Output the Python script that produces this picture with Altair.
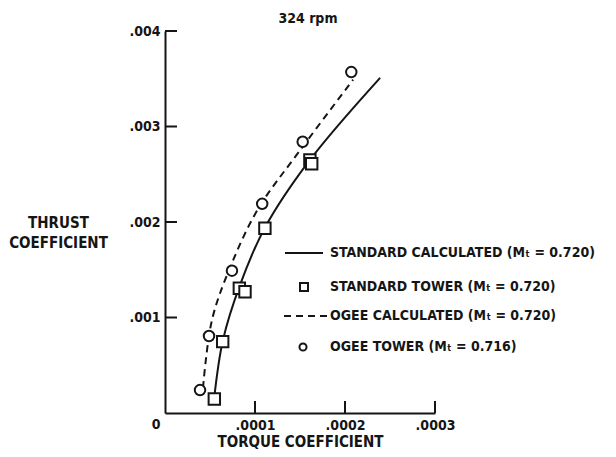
import altair as alt
import pandas as pd

# ---- data ----
std_calc_x = [0.0000544, 0.0000644, 0.0000833, 0.000111, 0.000161, 0.000239]
std_calc_y = [0.000136, 0.000764, 0.00134, 0.00194, 0.00265, 0.00351]
ogee_calc_x = [0.0000422, 0.0000522, 0.0000722, 0.000103, 0.000150, 0.000209]
ogee_calc_y = [0.000262, 0.000974, 0.00152, 0.00213, 0.00275, 0.00349]
std_tower_x = [0.0000548, 0.0000641, 0.0000826, 0.0000889, 0.000111, 0.000161, 0.000163]
std_tower_y = [0.000147, 0.000747, 0.001306, 0.00127, 0.001934, 0.00265, 0.00261]
ogee_tower_x = [0.0000389, 0.0000489, 0.0000744, 0.000108, 0.000153, 0.000207]
ogee_tower_y = [0.00024, 0.000806, 0.00149, 0.00219, 0.00284, 0.00357]

x_ticks = [0.0001, 0.0002, 0.0003]
y_ticks = [0.001, 0.002, 0.003, 0.004]

legend_labels = [
    "STANDARD CALCULATED (Mₜ = 0.720)",
    "STANDARD TOWER (Mₜ = 0.720)",
    "OGEE CALCULATED (Mₜ = 0.720)",
    "OGEE TOWER (Mₜ = 0.716)",
]
title_text = "324 rpm"
x_title = "TORQUE COEFFICIENT"
y_title = ["THRUST", "COEFFICIENT"]

# ---- layout ----
W, H = 270, 382
FONT = "DejaVu Sans Condensed, sans-serif"
INK = "#151515"

xs = alt.Scale(domain=[0, 0.0003], nice=False, zero=True)
ys = alt.Scale(domain=[0, 0.004], nice=False, zero=True)

std_calc = pd.DataFrame({"x": std_calc_x, "y": std_calc_y})
ogee_calc = pd.DataFrame({"x": ogee_calc_x, "y": ogee_calc_y})
std_tower = pd.DataFrame({"x": std_tower_x, "y": std_tower_y})
ogee_tower = pd.DataFrame({"x": ogee_tower_x, "y": ogee_tower_y})

x_axis = alt.Axis(
    values=x_ticks, tickSize=0, grid=False, domainColor=INK, domainWidth=2,
    labelExpr="substring(format(datum.value, '.4f'), 1)",
    labelFont=FONT, labelFontSize=14, labelFontWeight="bold", labelColor=INK,
    labelPadding=5, labelFlush=False, labelOverlap=False,
    title=x_title, titleFont=FONT, titleFontSize=15, titleFontWeight="bold",
    titleColor=INK, titlePadding=2,
)
y_axis = alt.Axis(
    values=y_ticks, tickSize=0, grid=False, domainColor=INK, domainWidth=2,
    labelExpr="substring(format(datum.value, '.3f'), 1)",
    labelFont=FONT, labelFontSize=14, labelFontWeight="bold", labelColor=INK,
    labelPadding=5, labelFlush=False, labelOverlap=False,
    title=y_title, titleFont=FONT, titleFontSize=15, titleFontWeight="bold",
    titleColor=INK, titleAngle=0, titleAlign="center", titleBaseline="top",
    titleX=-107, titleY=184, titleLineHeight=20,
)

base_x = alt.X("x:Q", scale=xs, axis=x_axis)
base_y = alt.Y("y:Q", scale=ys, axis=y_axis)

line_std = alt.Chart(std_calc).mark_line(
    color=INK, strokeWidth=2, interpolate="catmull-rom"
).encode(x=base_x, y=base_y, order="y:Q")

line_ogee = alt.Chart(ogee_calc).mark_line(
    color=INK, strokeWidth=2, strokeDash=[7, 5], interpolate="catmull-rom"
).encode(x="x:Q", y="y:Q", order="y:Q")

pts_std = alt.Chart(std_tower).mark_point(
    shape="square", size=130, filled=True, fill="white", stroke=INK,
    strokeWidth=2, opacity=1
).encode(x="x:Q", y="y:Q")

pts_ogee = alt.Chart(ogee_tower).mark_point(
    shape="circle", size=110, filled=True, fill="white", stroke=INK,
    strokeWidth=2, opacity=1
).encode(x="x:Q", y="y:Q")

# inward tick marks
xt = alt.Chart(pd.DataFrame({"x": x_ticks})).mark_rule(color=INK, strokeWidth=2).encode(
    x="x:Q", y=alt.value(H), y2=alt.value(H - 12))
yt = alt.Chart(pd.DataFrame({"y": y_ticks})).mark_rule(color=INK, strokeWidth=2).encode(
    y="y:Q", x=alt.value(0), x2=alt.value(12))

zero_lbl = alt.Chart(pd.DataFrame({"x": [0], "y": [0], "t": ["0"]})).mark_text(
    font=FONT, fontSize=14, fontWeight="bold", color=INK, dx=-9, dy=12
).encode(x="x:Q", y="y:Q", text="t:N")

title = alt.Chart(pd.DataFrame({"t": [title_text]})).mark_text(
    font=FONT, fontSize=14, fontWeight="bold", color=INK
).encode(x=alt.value(143), y=alt.value(-12), text="t:N")

# legend
rows_y = [222, 256, 285, 316]
leg_text = alt.Chart(pd.DataFrame({"t": legend_labels, "yy": rows_y})).mark_text(
    font=FONT, fontSize=14, fontWeight="bold", color=INK, align="left", baseline="middle"
).encode(x=alt.value(165), y=alt.Y("yy:Q", scale=None), text="t:N")

leg_solid = alt.Chart(pd.DataFrame({"a": [0]})).mark_rule(color=INK, strokeWidth=2).encode(
    x=alt.value(120), x2=alt.value(158), y=alt.value(rows_y[0]))
leg_dash = alt.Chart(pd.DataFrame({"a": [0]})).mark_rule(
    color=INK, strokeWidth=2, strokeDash=[7, 5]).encode(
    x=alt.value(119), x2=alt.value(162), y=alt.value(rows_y[2]))
leg_sq = alt.Chart(pd.DataFrame({"a": [0]})).mark_point(
    shape="square", size=64, stroke=INK, strokeWidth=2, opacity=1).encode(
    x=alt.value(139), y=alt.value(rows_y[1]))
leg_ci = alt.Chart(pd.DataFrame({"a": [0]})).mark_point(
    shape="circle", size=50, stroke=INK, strokeWidth=2, opacity=1).encode(
    x=alt.value(138), y=alt.value(rows_y[3]))

chart = alt.layer(
    line_std, line_ogee, pts_std, pts_ogee, xt, yt, zero_lbl, title,
    leg_text, leg_solid, leg_dash, leg_sq, leg_ci
).properties(
    width=W, height=H,
    autosize=alt.AutoSizeParams(type="none"),
    padding={"left": 157, "top": 23, "right": 173, "bottom": 40},
    background="white",
).configure_view(stroke=None)

chart.save("out.html", embed_options={"renderer": "svg", "actions": False})
